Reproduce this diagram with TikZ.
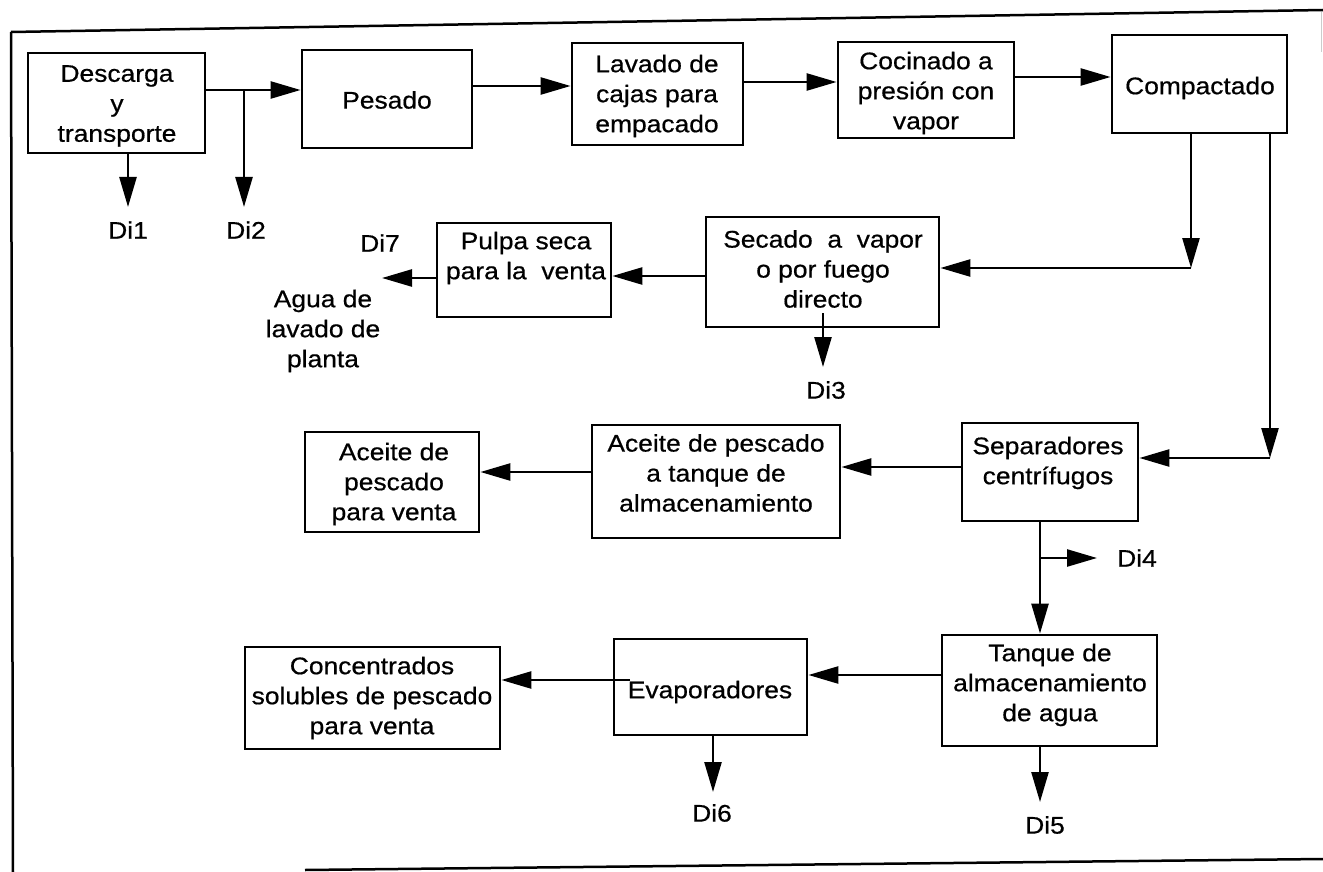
\documentclass[tikz,border=0pt]{standalone}
\usepackage{fontspec}
\setmainfont{Liberation Sans}[FakeStretch=1.1, FakeBold=0.6]
\usetikzlibrary{arrows.meta}
\begin{document}
\begin{tikzpicture}[x=1pt,y=-1pt,
  font=\fontsize{24}{30}\selectfont,
  box/.style={draw, line width=2.8pt, inner sep=0pt},
  txt/.style={align=center, inner sep=0pt},
  lab/.style={inner sep=0pt},
  arr/.style={line width=2.5pt, -{Triangle[length=30pt,width=17pt]}},
  frame/.style={line width=2.5pt}]
\useasboundingbox (0,0) rectangle (1323,872);

% outer frame
\draw[frame] (11,32) -- (1323,10);
\draw[frame] (11,32) -- (13,872);
\draw[frame] (305,870) -- (1323,859);
\draw[line width=1pt, gray!40] (1321,12) -- (1321,52);

% process boxes
\node[box, minimum width=177pt, minimum height=100pt] (A) at (116.5,103) {};
\node[box, minimum width=170pt, minimum height=98pt]  (B) at (387,99) {};
\node[box, minimum width=171pt, minimum height=102pt] (C) at (657.5,94) {};
\node[box, minimum width=176pt, minimum height=96pt]  (D) at (926,90) {};
\node[box, minimum width=175pt, minimum height=98pt]  (E) at (1199.5,84) {};
\node[box, minimum width=233pt, minimum height=110pt] (F) at (822.5,272) {};
\node[box, minimum width=174pt, minimum height=94pt]  (G) at (524,270) {};
\node[box, minimum width=176pt, minimum height=98pt]  (H) at (1050,472) {};
\node[box, minimum width=248pt, minimum height=113pt] (I) at (716,481.5) {};
\node[box, minimum width=174pt, minimum height=100pt] (J) at (392,482) {};
\node[box, minimum width=215pt, minimum height=111pt] (K) at (1049.5,690.5) {};
\node[box, minimum width=193pt, minimum height=96pt]  (L) at (710.5,687) {};
\node[box, minimum width=255pt, minimum height=102pt] (M) at (372.5,698) {};

% box texts
\node[txt] (At) at (117,106) {Descarga\\y\\transporte};
\node[txt] (Bt) at (387,100) {Pesado};
\node[txt] (Ct) at (657,96) {Lavado de\\cajas para\\empacado};
\node[txt] (Dt) at (926,93) {Cocinado a\\presión con\\vapor};
\node[txt] (Et) at (1200,88) {Compactado};
\node[txt] (Ft) at (823,269) {Secado\ \ a\ \ vapor\\o por fuego\\directo};
\node[txt] (Gt) at (526,258) {Pulpa seca\\para la\ \ venta};
\node[txt] (Ht) at (1048,463) {Separadores\\centrífugos};
\node[txt] (It) at (716,473) {Aceite de pescado\\a tanque de\\almacenamiento};
\node[txt] (Jt) at (394,484) {Aceite de\\pescado\\para venta};
\node[txt] (Kt) at (1050,685) {Tanque de\\almacenamiento\\de agua};
\node[txt] (Lt) at (710,692) {Evaporadores};
\node[txt] (Mt) at (372,698) {Concentrados\\solubles de pescado\\para venta};

% discharge labels
\node[lab] (d1) at (128,230) {Di1};
\node[lab] (d2) at (246,230) {Di2};
\node[lab] (d7) at (380,243) {Di7};
\node[txt] (agua) at (323,331) {Agua de\\lavado de\\planta};
\node[lab] (d3) at (826,390) {Di3};
\node[lab] (d4) at (1137,558) {Di4};
\node[lab] (d5) at (1045,825) {Di5};
\node[lab] (d6) at (712,813) {Di6};

% junctions and free arrow ends
\coordinate (t1) at (128,207);
\coordinate (j2) at (244,90);
\coordinate (t2) at (244,207);
\coordinate (c7) at (1191,268);
\coordinate (c8) at (1270,458);
\coordinate (t7) at (382,278);
\coordinate (s3) at (823,313);
\coordinate (t3) at (823,367);
\coordinate (j4) at (1040,558);
\coordinate (t4) at (1097,558);
\coordinate (t5) at (1040,802);
\coordinate (t6) at (713,792);
\coordinate (s6) at (630,680);

% main flow
\draw[arr] (A.east |- 0,90) -- (B.west |- 0,90);
\draw[arr] (B.east |- 0,86) -- (C.west |- 0,86);
\draw[arr] (C.east |- 0,82) -- (D.west |- 0,82);
\draw[arr] (D.east |- 0,77) -- (E.west |- 0,77);
\draw[arr] (E.south -| c7) -- (c7);
\draw[arr] (c7) -- (F.east |- c7);
\draw[arr] (E.south -| c8) -- (c8);
\draw[arr] (c8) -- (H.east |- c8);
\draw[arr] (F.west |- 0,276) -- (G.east |- 0,276);
\draw[arr] (G.west |- t7) -- (t7);
\draw[arr] (H.west |- 0,467) -- (I.east |- 0,467);
\draw[arr] (I.west |- 0,472) -- (J.east |- 0,472);
\draw[arr] (H.south -| j4) -- (K.north -| j4);
\draw[arr] (K.west |- 0,675) -- (L.east |- 0,675);
\draw[arr] (s6) -- (M.east |- s6);

% discharges
\draw[arr] (A.south -| t1) -- (t1);
\draw[arr] (j2) -- (t2);
\draw[arr] (s3) -- (t3);
\draw[arr] (j4) -- (t4);
\draw[arr] (K.south -| t5) -- (t5);
\draw[arr] (L.south -| t6) -- (t6);
\end{tikzpicture}
\end{document}
